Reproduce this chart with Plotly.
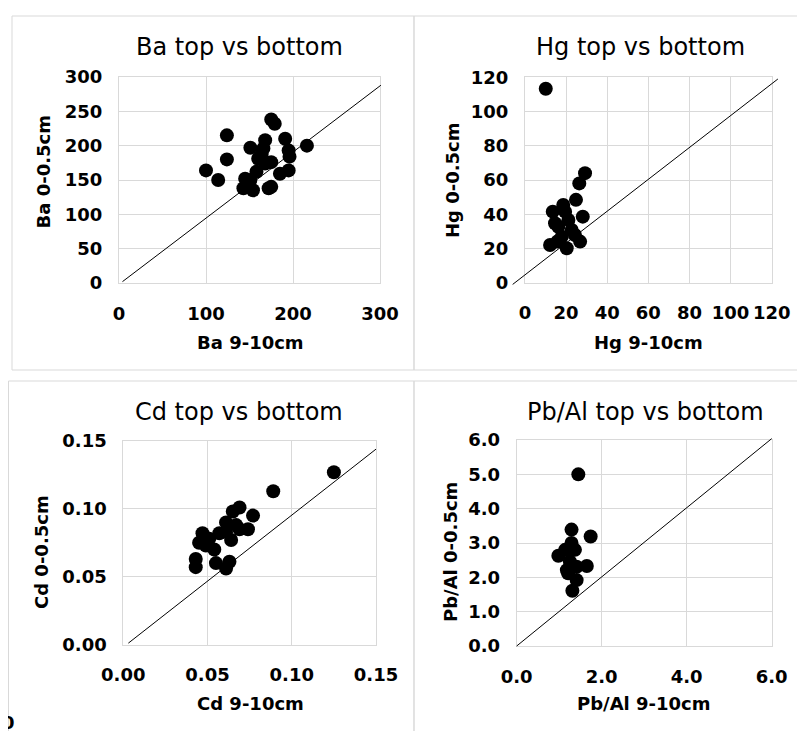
import plotly.graph_objects as go

W, H = 805, 731
OFF = 8  # page body margin that the browser adds around the figure

# ---------------- data ----------------
ba_bottom = [175, 179, 124, 100, 114, 124, 151, 168, 191, 216, 195, 196, 160, 175, 195, 185, 158, 145, 143, 154, 172, 175, 164, 166, 151, 147, 168]
ba_top    = [238, 232, 215, 164, 150, 180, 197, 208, 210, 200, 193, 184, 181, 176, 164, 159, 162, 152, 138, 135, 138, 140, 188, 196, 150, 145, 174]

hg_bottom = [10.1, 29.2, 26.4, 24.8, 13.5, 18.6, 28.1, 14.6, 21.1, 12.2, 20.3, 26.8, 17.9, 22.7, 16.2, 19.5, 24.3, 15.7]
hg_top    = [113.3, 64.0, 58.0, 48.4, 41.5, 45.4, 38.6, 34.7, 36.7, 22.0, 20.1, 24.0, 26.9, 30.8, 32.7, 41.5, 27.9, 24.0]

cd_bottom = [0.125, 0.089, 0.069, 0.065, 0.077, 0.074, 0.061, 0.067, 0.064, 0.057, 0.047, 0.045, 0.049, 0.054, 0.043, 0.043, 0.055, 0.061, 0.063, 0.061, 0.051, 0.069]
cd_top    = [0.127, 0.113, 0.101, 0.098, 0.095, 0.085, 0.090, 0.088, 0.077, 0.082, 0.082, 0.075, 0.073, 0.070, 0.063, 0.057, 0.060, 0.056, 0.061, 0.083, 0.078, 0.085]

pb_bottom = [1.45, 1.29, 1.74, 1.65, 0.98, 1.31, 1.21, 1.41, 1.29, 1.37, 1.14, 1.25, 1.41, 1.18]
pb_top    = [5.00, 3.39, 3.19, 2.33, 2.63, 1.61, 2.12, 1.92, 3.00, 2.80, 2.80, 2.46, 2.31, 2.21]

# reference (1:1) lines, start and end in data units [x0, y0, x1, y1]
ba_ref = [4, 2, 301, 288]
hg_ref = [-6, -1, 123, 119]
cd_ref = [0.003, 0.001, 0.150, 0.144]
pb_ref = [0.0, 0.0, 6.0, 6.04]

titles = ["Ba top vs bottom", "Hg top vs bottom", "Cd top vs bottom", "Pb/Al top vs bottom"]
xtitles = ["Ba 9-10cm", "Hg 9-10cm", "Cd 9-10cm", "Pb/Al 9-10cm"]
ytitles = ["Ba 0-0.5cm", "Hg 0-0.5cm", "Cd 0-0.5cm", "Pb/Al 0-0.5cm"]

ba_ticks = [0, 100, 200, 300]
ba_yticks = [0, 50, 100, 150, 200, 250, 300]
hg_ticks = [0, 20, 40, 60, 80, 100, 120]
cd_ticks = [0, 0.05, 0.10, 0.15]
pb_xticks = [0, 2, 4, 6]
pb_yticks = [0, 1, 2, 3, 4, 5, 6]

# ---------------- layout geometry (page pixels) ----------------
# plot areas: left, right, top, bottom
areas = [
    (119, 380, 77, 283),
    (525, 771.7, 77.3, 282.7),
    (123.3, 376, 441, 644.5),
    (516.7, 771.7, 440, 646),
]
ranges = [
    ([0, 300], [0, 300]),
    ([0, 120], [0, 120]),
    ([0, 0.15], [0, 0.15]),
    ([0, 6], [0, 6]),
]
xt = [ba_ticks, hg_ticks, cd_ticks, pb_xticks]
yt = [ba_yticks, hg_ticks, cd_ticks, pb_yticks]
fmts = [("", ""), ("", ""), (".2f", ".2f"), (".1f", ".1f")]
series = [(ba_bottom, ba_top), (hg_bottom, hg_top), (cd_bottom, cd_top), (pb_bottom, pb_top)]
refs = [ba_ref, hg_ref, cd_ref, pb_ref]

def px(x):
    return (x - OFF) / W

def py(y):
    return 1 - (y - OFF) / H

GRID = "#d9d9d9"
TICKFONT = dict(family="DejaVu Sans", size=18, color="black", weight="bold")

fig = go.Figure()
shapes = []
annotations = []

for i in range(4):
    sfx = "" if i == 0 else str(i + 1)
    l, r, t, b = areas[i]
    xr, yr = ranges[i]
    xs, ys = series[i]
    fig.add_trace(go.Scatter(
        x=xs, y=ys, mode="markers",
        marker=dict(size=14, color="black"),
        xaxis="x" + sfx, yaxis="y" + sfx, showlegend=False, cliponaxis=False,
    ))
    common = dict(showgrid=True, gridcolor=GRID, gridwidth=1, zeroline=False,
                  showline=True, linecolor=GRID, linewidth=1, mirror=True,
                  ticks="", tickfont=TICKFONT, automargin=False, tickangle=0)
    fig.update_layout(**{
        "xaxis" + sfx: dict(domain=[px(l), px(r)], range=xr, tickvals=xt[i],
                            tickformat=fmts[i][0], anchor="y" + sfx,
                            ticklabelstandoff=14, **common),
        "yaxis" + sfx: dict(domain=[py(b), py(t)], range=yr, tickvals=yt[i],
                            tickformat=fmts[i][1], anchor="x" + sfx,
                            ticklabelstandoff=12, **common),
    })
    # reference line, mapped from data units to paper
    x0, y0, x1, y1 = refs[i]
    def mx(v):
        return px(l + (v - xr[0]) / (xr[1] - xr[0]) * (r - l))
    def my(v):
        return py(b - (v - yr[0]) / (yr[1] - yr[0]) * (b - t))
    shapes.append(dict(type="line", xref="paper", yref="paper",
                       x0=mx(x0), y0=my(y0), x1=mx(x1), y1=my(y1),
                       line=dict(color="black", width=1)))

# panel borders
for (l, r, t, b) in [(12, 414, 16, 370), (414, 820, 16, 370), (8.5, 414, 381, 745), (414, 820, 381, 745)]:
    shapes.append(dict(type="rect", xref="paper", yref="paper",
                       x0=px(l), x1=px(r), y0=py(b), y1=py(t),
                       line=dict(color=GRID, width=1), layer="below"))

# titles and axis titles
title_pos = [(239, 47), (640, 47), (239, 412), (645, 412)]
xtitle_pos = [(250, 343), (648, 343), (250, 703), (644, 703)]
ytitle_pos = [(43.5, 172), (452, 180), (41, 552), (450, 552)]
for i in range(4):
    annotations.append(dict(text=titles[i], x=px(title_pos[i][0]), y=py(title_pos[i][1]),
                            xref="paper", yref="paper", showarrow=False,
                            xanchor="center", yanchor="middle",
                            font=dict(family="DejaVu Sans", size=24, color="black")))
    annotations.append(dict(text=xtitles[i], x=px(xtitle_pos[i][0]), y=py(xtitle_pos[i][1]),
                            xref="paper", yref="paper", showarrow=False,
                            xanchor="center", yanchor="middle", font=TICKFONT))
    annotations.append(dict(text=ytitles[i], x=px(ytitle_pos[i][0]), y=py(ytitle_pos[i][1]),
                            xref="paper", yref="paper", showarrow=False, textangle=-90,
                            xanchor="center", yanchor="middle", font=TICKFONT))

# stray clipped label at the bottom-left corner
annotations.append(dict(text="0", x=px(8), y=py(722), xref="paper", yref="paper",
                        showarrow=False, xanchor="center", yanchor="middle", font=TICKFONT))

fig.update_layout(width=W, height=H, margin=dict(l=0, r=0, t=0, b=0),
                  paper_bgcolor="white", plot_bgcolor="white",
                  shapes=shapes, annotations=annotations, showlegend=False)

fig.write_html("out.html")
